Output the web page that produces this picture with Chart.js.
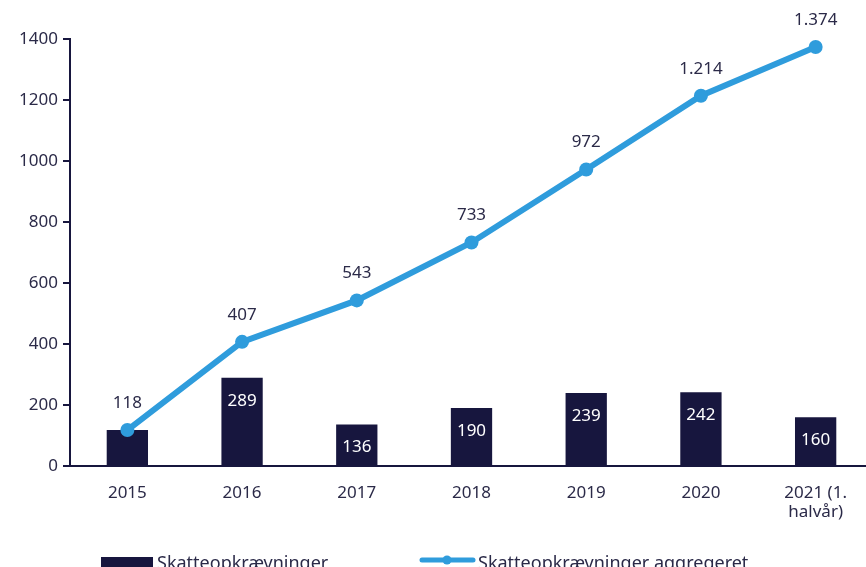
<!DOCTYPE html>
<html>
<head>
<meta charset="utf-8">
<script src="https://cdn.jsdelivr.net/npm/chart.js@4"></script>
<style>
  html, body { margin: 0; padding: 0; background: #fff; overflow: hidden; }
  #wrap { width: 866px; height: 567px; overflow: hidden; position: relative; }
  #wrap canvas { position: absolute; left: 0; top: 0; }
</style>
</head>
<body>
<div id="wrap"><canvas id="chart" width="880" height="585"></canvas></div>
<script>
// chart data
const years = ["2015", "2016", "2017", "2018", "2019", "2020", ["2021 (1.", "halvår)"]];
const perYear = [118, 289, 136, 190, 239, 242, 160];
const aggregated = [118, 407, 543, 733, 972, 1214, 1374];
const yTicks = [0, 200, 400, 600, 800, 1000, 1200, 1400];
const seriesNames = ["Skatteopkrævninger", "Skatteopkrævninger aggregeret"];

const NAVY = "#17163e";
const BLUE = "#2f9cdc";
const TEXT = "#2b2a48";
const FONT = "'Noto Sans', sans-serif";

const fmt = (v) => v.toLocaleString("da-DK");

// draws value labels and the legend at the bottom
const labelsPlugin = {
  id: "labels",
  afterDatasetsDraw(chart) {
    const ctx = chart.ctx;
    ctx.save();
    ctx.font = "17px " + FONT;
    ctx.textAlign = "center";
    ctx.textBaseline = "middle";

    // bar labels (inside, white)
    const barMeta = chart.getDatasetMeta(0);
    barMeta.data.forEach((bar, i) => {
      const h = bar.base - bar.y;
      if (h < 40) return;
      ctx.fillStyle = "#ffffff";
      ctx.fillText(fmt(perYear[i]), bar.x, bar.y + 23);
    });

    // line labels (above points)
    const lineMeta = chart.getDatasetMeta(1);
    lineMeta.data.forEach((pt, i) => {
      ctx.fillStyle = TEXT;
      ctx.fillText(fmt(aggregated[i]), pt.x, pt.y - 27);
    });

    // legend
    ctx.font = "18px " + FONT;
    ctx.textAlign = "left";
    ctx.textBaseline = "middle";
    ctx.fillStyle = NAVY;
    ctx.fillRect(101, 557, 52, 10);
    ctx.fillStyle = TEXT;
    ctx.fillText(seriesNames[0], 157, 564);

    ctx.strokeStyle = BLUE;
    ctx.lineWidth = 5;
    ctx.lineCap = "round";
    ctx.beginPath();
    ctx.moveTo(422, 560);
    ctx.lineTo(473, 560);
    ctx.stroke();
    ctx.fillStyle = BLUE;
    ctx.beginPath();
    ctx.arc(447, 560, 4.5, 0, Math.PI * 2);
    ctx.fill();
    ctx.fillStyle = TEXT;
    ctx.fillText(seriesNames[1], 478, 564);
    ctx.restore();
  }
};

new Chart(document.getElementById("chart"), {
  type: "bar",
  data: {
    labels: years,
    datasets: [
      {
        type: "bar",
        label: seriesNames[0],
        data: perYear,
        backgroundColor: NAVY,
        barPercentage: 0.6,
        categoryPercentage: 0.6,
        order: 2
      },
      {
        type: "line",
        label: seriesNames[1],
        data: aggregated,
        borderColor: BLUE,
        backgroundColor: BLUE,
        borderWidth: 6,
        pointRadius: 7,
        pointHoverRadius: 7,
        pointBackgroundColor: BLUE,
        pointBorderWidth: 0,
        tension: 0,
        order: 1
      }
    ]
  },
  options: {
    responsive: false,
    animation: false,
    layout: { padding: { top: 39, right: 5, bottom: 59, left: 0 } },
    plugins: {
      legend: { display: false },
      tooltip: { enabled: false }
    },
    scales: {
      x: {
        grid: { display: false },
        border: { color: NAVY, width: 2 },
        ticks: {
          color: TEXT,
          font: { family: FONT, size: 17, lineHeight: 1.1 },
          padding: 10,
          maxRotation: 0
        },
        afterFit(scale) { scale.height = 60; }
      },
      y: {
        min: 0,
        max: 1400,
        afterBuildTicks(scale) { scale.ticks = yTicks.map((v) => ({ value: v })); },
        grid: { display: true, drawOnChartArea: false, drawTicks: true, tickLength: 7, color: NAVY, lineWidth: 2 },
        border: { color: NAVY, width: 2 },
        ticks: {
          color: TEXT,
          font: { family: FONT, size: 17 },
          padding: 5,
          callback: (v) => String(v)
        },
        afterFit(scale) { scale.width = 70; }
      }
    }
  },
  plugins: [labelsPlugin]
});
</script>
</body>
</html>
